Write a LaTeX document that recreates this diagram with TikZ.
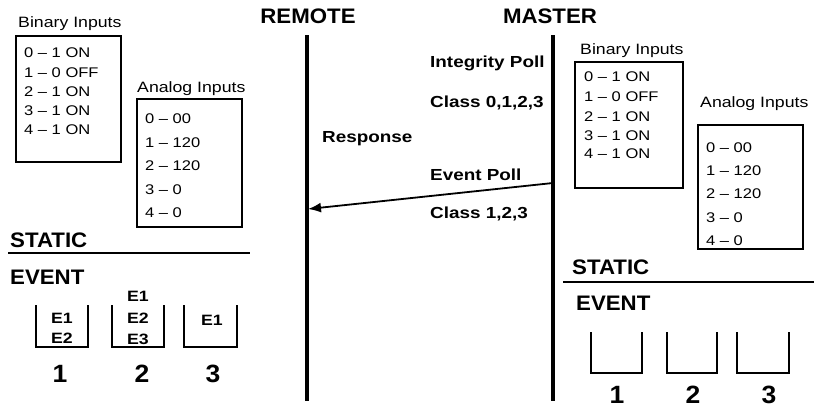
\documentclass[tikz,border=0pt]{standalone}
\usepackage{fontspec}
\setmainfont[FakeStretch=1.18]{Liberation Sans}
\newfontfamily\headfont[FakeStretch=1.06]{Liberation Sans}
\usetikzlibrary{arrows.meta}
\tikzset{
  itm/.style={anchor=west,inner sep=0pt,text height=10pt,text depth=0pt,font=\fontsize{14}{16}\selectfont},
  ttl/.style={anchor=west,inner sep=0pt,text height=10.7pt,text depth=0pt,font=\fontsize{15}{18}\selectfont},
  blbl/.style={anchor=west,inner sep=0pt,text height=11.5pt,text depth=0pt,font=\fontsize{16}{19}\selectfont\bfseries},
  hd/.style={inner sep=0pt,text height=15pt,text depth=0pt,font=\fontsize{21}{24}\selectfont\headfont\bfseries},
  num/.style={inner sep=0pt,text height=18pt,text depth=0pt,font=\fontsize{25}{30}\selectfont\headfont\bfseries},
  ev/.style={inner sep=0pt,text height=10.7pt,text depth=0pt,font=\fontsize{15}{18}\selectfont\bfseries},
  boxline/.style={line width=1.2pt},
  lifeline/.style={line width=3.2pt},
  sepline/.style={line width=2pt},
  bucket/.style={line width=1.3pt},
  msg/.style={line width=1.8pt,-{Latex[length=13pt,width=10pt]}}
}
\begin{document}
\begin{tikzpicture}[x=1pt,y=-1pt]
\useasboundingbox (0,0) rectangle (814,410);

% headings
\node[hd] (remote) at (308,16) {REMOTE};
\node[hd] (master) at (550,16) {MASTER};

% lifelines
\coordinate (rTop) at (307,35);
\coordinate (rBot) at (307,401);
\coordinate (mTop) at (553,35);
\coordinate (mBot) at (553,401);
\draw[lifeline] (rTop) -- (rBot);
\draw[lifeline] (mTop) -- (mBot);

% messages
\node[blbl] (ip) at (430,62) {Integrity Poll};
\node[blbl] (c0) at (430,102) {Class 0,1,2,3};
\node[blbl] (resp) at (322,137) {Response};
\node[blbl] (ep) at (430,175) {Event Poll};
\node[blbl] (c1) at (430,213) {Class 1,2,3};
\coordinate (mEv) at (553,183);
\coordinate (rEv) at (308,209);
\draw[msg] (mEv) -- (rEv);

% ---------- left (remote) ----------
\node[ttl] (lbiT) at (18,22) {Binary Inputs};
\draw[boxline] (16,36) rectangle (121,162);
\node[itm] (lb0) at (24,52) {0 – 1 ON};
\node[itm] (lb1) at (24,72) {1 – 0 OFF};
\node[itm] (lb2) at (24,91) {2 – 1 ON};
\node[itm] (lb3) at (24,110) {3 – 1 ON};
\node[itm] (lb4) at (24,129) {4 – 1 ON};

\node[ttl] (laiT) at (137,87) {Analog Inputs};
\draw[boxline] (137,99) rectangle (242,227);
\node[itm] (la0) at (145,118) {0 – 00};
\node[itm] (la1) at (145,142) {1 – 120};
\node[itm] (la2) at (145,165) {2 – 120};
\node[itm] (la3) at (145,189) {3 – 0};
\node[itm] (la4) at (145,212) {4 – 0};

\node[hd,anchor=west] (lstat) at (10,240) {STATIC};
\draw[sepline] (8,253) -- (250,253);
\node[hd,anchor=west] (levt) at (10,277) {EVENT};

\draw[bucket] (36,305) -- (36,347) -- (88,347) -- (88,305);
\draw[bucket] (112,305) -- (112,347) -- (164,347) -- (164,305);
\draw[bucket] (184,305) -- (184,347) -- (237,347) -- (237,305);
\node[ev] (l1e1) at (62,318) {E1};
\node[ev] (l1e2) at (62,338) {E2};
\node[ev] (l2e1) at (138,296) {E1};
\node[ev] (l2e2) at (138,318) {E2};
\node[ev] (l2e3) at (138,339) {E3};
\node[ev] (l3e1) at (212,320) {E1};
\node[num] (ln1) at (60,373) {1};
\node[num] (ln2) at (142,373) {2};
\node[num] (ln3) at (213,373) {3};

% ---------- right (master) ----------
\node[ttl] (rbiT) at (580,49) {Binary Inputs};
\draw[boxline] (575,62) rectangle (683,188);
\node[itm] (rb0) at (584,76) {0 – 1 ON};
\node[itm] (rb1) at (584,96) {1 – 0 OFF};
\node[itm] (rb2) at (584,116) {2 – 1 ON};
\node[itm] (rb3) at (584,135) {3 – 1 ON};
\node[itm] (rb4) at (584,153) {4 – 1 ON};

\node[ttl] (raiT) at (700,102) {Analog Inputs};
\draw[boxline] (698,125) rectangle (803,249);
\node[itm] (ra0) at (706,147) {0 – 00};
\node[itm] (ra1) at (706,170) {1 – 120};
\node[itm] (ra2) at (706,193) {2 – 120};
\node[itm] (ra3) at (706,217) {3 – 0};
\node[itm] (ra4) at (706,240) {4 – 0};

\node[hd,anchor=west] (rstat) at (572,267) {STATIC};
\draw[sepline] (563,282) -- (814,282);
\node[hd,anchor=west] (revt) at (576,303) {EVENT};

\draw[bucket] (591,332) -- (591,373) -- (642,373) -- (642,332);
\draw[bucket] (667,332) -- (667,373) -- (717,373) -- (717,332);
\draw[bucket] (737,332) -- (737,373) -- (789,373) -- (789,332);
\node[num] (rn1) at (617,394) {1};
\node[num] (rn2) at (693,394) {2};
\node[num] (rn3) at (769,394) {3};
\end{tikzpicture}
\end{document}
